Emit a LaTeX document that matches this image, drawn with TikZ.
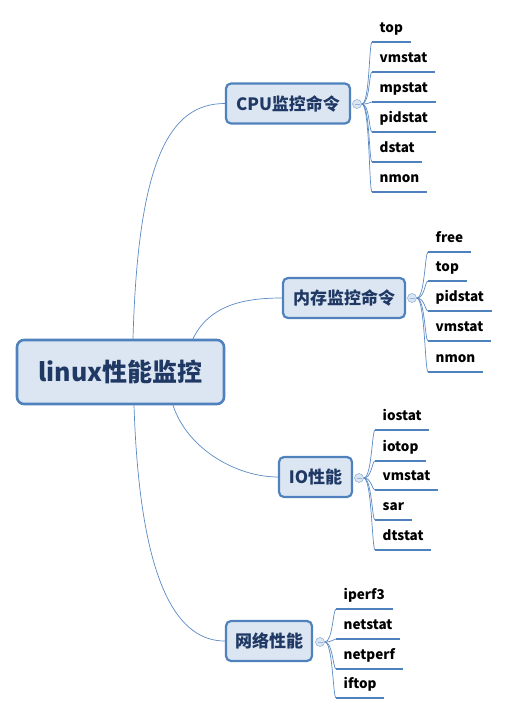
\documentclass[tikz,border=0pt]{standalone}
\usepackage{fontspec}
\setmainfont{Noto Sans CJK SC}
\usepackage{tikz}
\usetikzlibrary{positioning}
\definecolor{boxline}{HTML}{4F81BD}
\definecolor{boxfill}{HTML}{DCE6F2}
\definecolor{boxtext}{HTML}{1F3864}
\definecolor{linkline}{HTML}{5A8AC6}

\begin{document}
\begin{tikzpicture}[
    x=1pt, y=-1pt,
    root/.style = {rectangle, rounded corners=7pt, fill=boxfill, draw=boxline, line width=2.6pt, minimum width=207pt, minimum height=64pt, text=boxtext, font=\fontsize{25}{30}\selectfont\bfseries},
    branch/.style = {rectangle, rounded corners=5pt, fill=boxfill, draw=boxline, line width=2.2pt, minimum height=40pt, text=boxtext, font=\fontsize{17}{20}\selectfont\bfseries},
    fold/.style = {circle, fill=boxfill, draw=boxline!60, line width=0.6pt, minimum size=9pt, inner sep=0pt},
    leaf/.style = {anchor=south west, inner xsep=7.5pt, inner ysep=0pt, text depth=9pt, font=\fontsize{13.5}{16}\selectfont\bfseries},
    underline/.style = {draw=boxline, line width=2.2pt},
    link/.style = {draw=linkline, line width=0.7pt},
]
    \useasboundingbox (0,0) rectangle (506,716);

    % root and branches
    \node[root] (root) at (120.5,372) {linux性能监控};
    \node[branch, minimum width=124pt] (cpu) at (288,103.5) {CPU监控命令};
    \node[branch, minimum width=122pt] (mem) at (344,298) {内存监控命令};
    \node[branch, minimum width=73pt] (io) at (315.5,477) {IO性能};
    \node[branch, minimum width=86pt] (net) at (269,641) {网络性能};

    % fold markers
    \node[fold] (cpudot) at (357,104) {};
    \node[fold] (memdot) at (412,298) {};
    \node[fold] (iodot) at (359,478) {};
    \node[fold] (netdot) at (320,642) {};
    \foreach \d in {cpudot,memdot,iodot,netdot}
        \draw[boxline!60, line width=0.6pt] ([xshift=-2.5pt]\d.center) -- ([xshift=2.5pt]\d.center);

    % cpu leaves
    \node[leaf] (c1) at (372,42) {top};
    \node[leaf] (c2) at (372,72) {vmstat};
    \node[leaf] (c3) at (372,102) {mpstat};
    \node[leaf] (c4) at (372,132) {pidstat};
    \node[leaf] (c5) at (372,162) {dstat};
    \node[leaf] (c6) at (372,192) {nmon};

    % memory leaves
    \node[leaf] (m1) at (428,252) {free};
    \node[leaf] (m2) at (428,281) {top};
    \node[leaf] (m3) at (428,311) {pidstat};
    \node[leaf] (m4) at (428,341) {vmstat};
    \node[leaf] (m5) at (428,372) {nmon};

    % io leaves
    \node[leaf] (i1) at (375,430) {iostat};
    \node[leaf] (i2) at (375,461) {iotop};
    \node[leaf] (i3) at (375,490) {vmstat};
    \node[leaf] (i4) at (375,520) {sar};
    \node[leaf] (i5) at (375,550) {dtstat};

    % network leaves
    \node[leaf] (n1) at (336,609) {iperf3};
    \node[leaf] (n2) at (336,639) {netstat};
    \node[leaf] (n3) at (336,669) {netperf};
    \node[leaf] (n4) at (336,698) {iftop};

    % links from root
    \draw[link] ([xshift=12.5pt]root.north) .. controls +(5,-180) and +(-55,0) .. (cpu.west);
    \draw[link] ([xshift=72.5pt]root.north) .. controls +(17,-35) and +(-35,0) .. (mem.west);
    \draw[link] ([xshift=52.5pt]root.south) .. controls +(15,45) and +(-40,0) .. (io.west);
    \draw[link] ([xshift=13.5pt]root.south) .. controls +(6,185) and +(-45,0) .. (net.west);

    % brackets and underlines
    \foreach \n in {c1,c2,c3,c4,c5,c6} {
        \draw[link] (cpudot.east) .. controls +(8,0) and +(-3,0) .. (\n.south west);
        \draw[underline] (\n.south west) -- (\n.south east);
    }
    \foreach \n in {m1,m2,m3,m4,m5} {
        \draw[link] (memdot.east) .. controls +(8,0) and +(-3,0) .. (\n.south west);
        \draw[underline] (\n.south west) -- (\n.south east);
    }
    \foreach \n in {i1,i2,i3,i4,i5} {
        \draw[link] (iodot.east) .. controls +(8,0) and +(-3,0) .. (\n.south west);
        \draw[underline] (\n.south west) -- (\n.south east);
    }
    \foreach \n in {n1,n2,n3,n4} {
        \draw[link] (netdot.east) .. controls +(8,0) and +(-3,0) .. (\n.south west);
        \draw[underline] (\n.south west) -- (\n.south east);
    }

\end{tikzpicture}
\end{document}
